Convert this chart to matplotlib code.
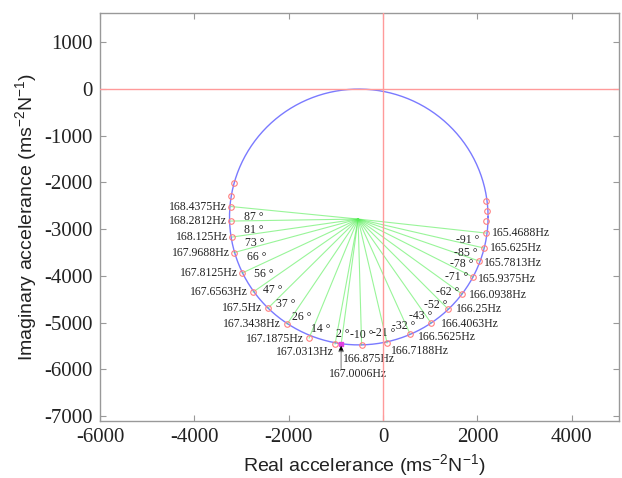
import matplotlib

matplotlib.use("Agg")
import matplotlib.pyplot as plt
import numpy as np

# modal circle
circle_center = (-515, -2740)
circle_radius = 2740
spoke_origin = (-530, -2784)

# points with spokes, from 168.4375 Hz round the bottom to 165.4688 Hz
freq_labels = [
    "168.4375Hz", "168.2812Hz", "168.125Hz", "167.9688Hz", "167.8125Hz",
    "167.6563Hz", "167.5Hz", "167.3438Hz", "167.1875Hz", "167.0313Hz",
    "166.875Hz", "166.7188Hz", "166.5625Hz", "166.4063Hz", "166.25Hz",
    "166.0938Hz", "165.9375Hz", "165.7813Hz", "165.625Hz", "165.4688Hz",
]
pt_real = [
    -3220, -3231, -3199, -3157, -2987, -2754, -2436, -2034, -1568, -1017,
    -455, 85, 572, 1017, 1377, 1674, 1907, 2034, 2140, 2182,
]
pt_imag = [
    -2516, -2827, -3169, -3501, -3940, -4347, -4690, -5032, -5332, -5460,
    -5482, -5439, -5246, -5011, -4711, -4390, -4026, -3683, -3405, -3084,
]
angles = [87, 81, 73, 66, 56, 47, 37, 26, 14, 2,
          -10, -21, -32, -43, -52, -62, -71, -78, -85, -91]

# extra points on the circle without labels
extra_real = [-3157, -3220, 2182, 2203, 2182]
extra_imag = [-2013, -2291, -2827, -2612, -2398]

# natural frequency point
peak_label = "167.0006Hz"
peak_real = -890
peak_imag = -5471

# label offsets in pixels (dx, dy, ha)
freq_offsets = [
    (-4, 0, "right"), (-4, 0, "right"), (-4, 0, "right"), (-4, 0, "right"),
    (-4, 0, "right"), (-5, 0, "right"), (-6, 0, "right"), (-6, 0, "right"),
    (-5, -1, "right"), (-1, -8, "right"),
    (-19, -14, "left"), (4, -8, "left"), (8, -3, "left"), (10, -1, "left"),
    (8, 0, "left"), (7, -1, "left"), (5, -2, "left"), (5, -2, "left"),
    (6, 0, "left"), (6, 0, "left"),
]

SERIF = ["Liberation Serif", "DejaVu Serif"]
SANS = ["Liberation Sans", "DejaVu Sans"]

plt.rcParams["axes.unicode_minus"] = False
plt.rcParams["mathtext.fontset"] = "custom"
plt.rcParams["mathtext.rm"] = "Liberation Sans"
plt.rcParams["mathtext.it"] = "Liberation Sans"

fig = plt.figure(figsize=(6.22, 4.78), dpi=100)
ax = fig.add_axes([100 / 622, 57 / 478, 519 / 622, 408 / 478])

t = np.linspace(0, 2 * np.pi, 400)
ax.plot(circle_center[0] + circle_radius * np.cos(t),
        circle_center[1] + circle_radius * np.sin(t),
        color="#7a7aff", linewidth=1.0, zorder=2)

for xr, yi in zip(pt_real + [peak_real], pt_imag + [peak_imag]):
    ax.plot([spoke_origin[0], xr], [spoke_origin[1], yi],
            color="#55ee55", linewidth=0.8, alpha=0.6, zorder=3)

ax.axhline(0, color="#ff9a9a", linewidth=1.0, zorder=4)
ax.axvline(0, color="#ff9a9a", linewidth=1.0, zorder=4)

ax.plot(pt_real + extra_real, pt_imag + extra_imag, "o", markersize=4,
        markerfacecolor="none", markeredgecolor="#ff7f7f", markeredgewidth=0.8, zorder=5)
ax.plot([peak_real], [peak_imag], "s", markersize=2.5, color="#e040e0", zorder=6)

for label, xr, yi, (dx, dy, ha) in zip(freq_labels, pt_real, pt_imag, freq_offsets):
    ax.annotate(label, (xr, yi), xytext=(dx, dy), textcoords="offset pixels",
                ha=ha, va="center", fontsize=8.5, family=SERIF, color="#222222")

for a, xr, yi in zip(angles, pt_real, pt_imag):
    px = spoke_origin[0] + 0.85 * (xr - spoke_origin[0])
    py = spoke_origin[1] + 0.85 * (yi - spoke_origin[1])
    dx = 4 if xr < spoke_origin[0] else 1
    ax.annotate(f"{a} \u00b0", (px, py), xytext=(dx, -9), textcoords="offset pixels",
                ha="center", va="center", fontsize=8.5, family=SERIF, color="#222222")

# arrow to the natural frequency
ax.annotate("", xy=(peak_real, peak_imag), xytext=(0, -24), textcoords="offset pixels",
            arrowprops=dict(arrowstyle="-|>", color="#888888", linewidth=0.8,
                            mutation_scale=8, shrinkA=0, shrinkB=1), zorder=6)
ax.annotate("", xy=(peak_real, peak_imag), xytext=(0, -8), textcoords="offset pixels",
            arrowprops=dict(arrowstyle="-|>", color="black", linewidth=0.1,
                            mutation_scale=8, shrinkA=0, shrinkB=1), zorder=7)
ax.annotate(peak_label, (peak_real, peak_imag), xytext=(17, -30), textcoords="offset pixels",
            ha="center", va="center", fontsize=8.5, family=SERIF, color="#222222")

ax.set_xlim(-6000, 5000)
ax.set_ylim(-7110, 1630)
ax.set_xticks(np.arange(-6000, 4001, 2000))
ax.set_yticks(np.arange(-7000, 1001, 1000))
ax.tick_params(direction="in", length=4, width=0.8, color="#999999",
               top=True, right=True, labelsize=15, pad=5, labelcolor="#222222")
for lab in ax.get_xticklabels() + ax.get_yticklabels():
    lab.set_family(SERIF)
for sp in ax.spines.values():
    sp.set_color("#999999")
    sp.set_linewidth(1.0)

ax.set_xlabel(r"Real accelerance (ms$^{-2}$N$^{-1}$)", fontsize=14, family=SANS, color="#222222")
ax.set_ylabel(r"Imaginary accelerance (ms$^{-2}$N$^{-1}$)", fontsize=14, family=SANS, color="#222222")
ax.xaxis.set_label_coords((364 - 100) / 519, (421 - 452) / 408)
ax.yaxis.set_label_coords((39 - 100) / 519, (421 - 217) / 408)

fig.savefig("out.png", dpi=100)
